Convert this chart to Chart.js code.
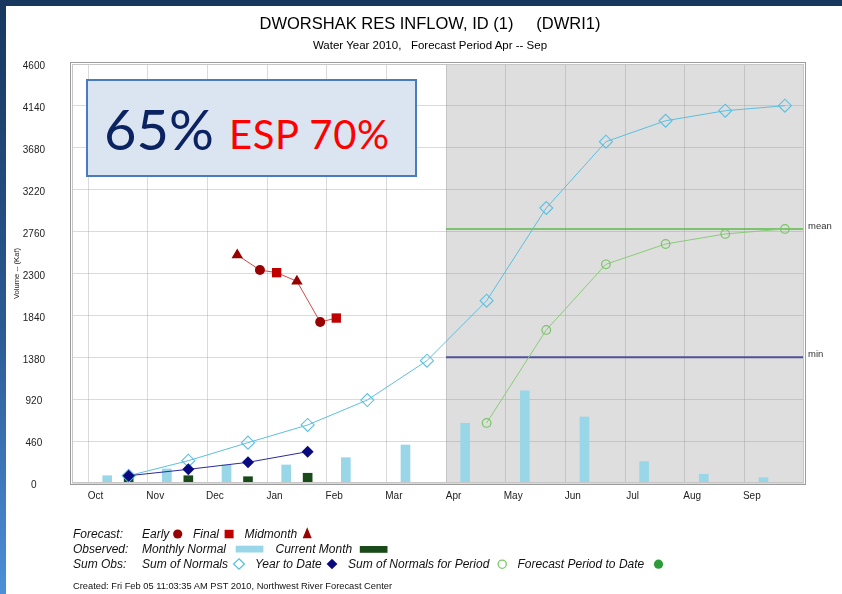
<!DOCTYPE html>
<html>
<head>
<meta charset="utf-8">
<title>DWORSHAK RES INFLOW, ID (1) (DWRI1)</title>
<script src="https://cdn.jsdelivr.net/npm/chart.js@4.4.1/dist/chart.umd.min.js"></script>
<style>
  html, body { margin: 0; padding: 0; background: #fff; }
  body { width: 842px; height: 594px; position: relative; overflow: hidden;
         font-family: "Liberation Sans", Arial, sans-serif; color: #000; }
  #chart { position: absolute; left: 0; top: 0; }
  .band-top { position: absolute; left: 0; top: 0; width: 842px; height: 6px; background: #17375e; }
  .band-left { position: absolute; left: 0; top: 0; width: 6px; height: 594px;
               background: linear-gradient(#17375e, #2b5a93 55%, #4d8fd9); }
  .title { position: absolute; left: 0; width: 860px; text-align: center; white-space: pre; }
  .t1 { top: 13px; font-size: 16.5px; line-height: 20px; }
  .t2 { top: 38px; font-size: 11.5px; line-height: 14px; }
  .badge { position: absolute; left: 86px; top: 79px; width: 331px; height: 98px; box-sizing: border-box;
           background: #dbe4f1; border: 2px solid #4a7bbd; }
  .badge span { position: absolute; white-space: pre; font-family: Lato, "Open Sans", sans-serif; line-height: 1.2; }
  .big { left: 16px; top: 14px; font-size: 56px; color: #0b2360; }
  .esp { left: 141px; top: 29px; font-size: 40px; color: #ff0000; letter-spacing: 0.6px; }
  .lg { position: absolute; font-style: italic; font-size: 12px; line-height: 14px; white-space: pre; color: #111; }
  .foot { position: absolute; left: 73px; top: 580px; font-size: 9.3px; line-height: 12px; white-space: pre; color: #111; }
  svg.keys { position: absolute; left: 0; top: 0; }
</style>
</head>
<body>
<canvas id="chart" width="842" height="594"></canvas>

<div class="title t1">DWORSHAK RES INFLOW, ID (1)     (DWRI1)</div>
<div class="title t2">Water Year 2010,   Forecast Period Apr -- Sep</div>

<div class="badge"><span class="big">65%</span><span class="esp">ESP 70%</span></div>

<!-- legend -->
<div class="lg" style="left:73px;top:527px">Forecast:</div>
<div class="lg" style="left:142px;top:527px">Early</div>
<div class="lg" style="left:193px;top:527px">Final</div>
<div class="lg" style="left:244.5px;top:527px">Midmonth</div>
<div class="lg" style="left:73px;top:542px">Observed:</div>
<div class="lg" style="left:142px;top:542px">Monthly Normal</div>
<div class="lg" style="left:275.5px;top:542px">Current Month</div>
<div class="lg" style="left:73px;top:557px">Sum Obs:</div>
<div class="lg" style="left:142px;top:557px">Sum of Normals</div>
<div class="lg" style="left:255px;top:557px">Year to Date</div>
<div class="lg" style="left:348px;top:557px">Sum of Normals for Period</div>
<div class="lg" style="left:517.5px;top:557px">Forecast Period to Date</div>
<div class="foot">Created: Fri Feb 05 11:03:35 AM PST 2010, Northwest River Forecast Center</div>

<svg class="keys" width="842" height="594">
  <circle cx="177.7" cy="534" r="4.6" fill="#990000"/>
  <rect x="224.6" y="529.8" width="9" height="8.5" fill="#c00000"/>
  <polygon points="307.2,527.3 302.7,538.3 311.7,538.3" fill="#990000"/>
  <rect x="235.7" y="545.7" width="27.7" height="6.8" fill="#98d6e8"/>
  <rect x="359.8" y="546" width="27.7" height="6.8" fill="#1a4a1a"/>
  <polygon points="239,558.8 244.4,564 239,569.2 233.6,564" fill="none" stroke="#5bc0e0" stroke-width="1.3"/>
  <polygon points="332,558.8 337.4,564 332,569.2 326.6,564" fill="#0a0a80"/>
  <circle cx="502.2" cy="564.2" r="4.1" fill="none" stroke="#7cc86a" stroke-width="1.3"/>
  <circle cx="658.5" cy="564.2" r="4.6" fill="#2e9b3a"/>
</svg>

<div class="band-top"></div>
<div class="band-left"></div>

<script>
// Water year 2010 volumes in thousand acre-feet (Kaf)
const months = ['Oct', 'Nov', 'Dec', 'Jan', 'Feb', 'Mar', 'Apr', 'May', 'Jun', 'Jul', 'Aug', 'Sep'];
const volumeTicks = [0, 460, 920, 1380, 1840, 2300, 2760, 3220, 3680, 4140, 4600];

// observed monthly volumes
const monthlyNormal = [80, 154, 198, 198, 278, 417, 656, 1013, 725, 234, 96, 58];
const currentMonth = [69, 80, 69, 107];                 // Oct .. Jan

// running sums
const sumOfNormals = [80, 245, 443, 637, 911, 1343, 2001, 3019, 3747, 3977, 4087, 4142];
const yearToDate = [80, 150, 227, 344];                  // Oct .. Jan
const periodMonths = ['Apr', 'May', 'Jun', 'Jul', 'Aug', 'Sep'];
const sumOfNormalsForPeriod = [659, 1680, 2401, 2624, 2734, 2789];

// Apr-Sep volume forecasts, by issue date (month index from Oct 1, fractional)
const forecastIssued = [2.50, 2.88, 3.16, 3.50, 3.89, 4.16];
const forecastKind = ['Midmonth', 'Early', 'Final', 'Midmonth', 'Early', 'Final'];
const forecastVolume = [2503, 2338, 2309, 2215, 1767, 1811];

// Apr-Sep reference volumes
const meanVolume = 2789;
const minVolume = 1380;

// where, within each month, a value is placed on the month axis
const NORMAL_POS = 0.32;
const MONTH_END_POS = 0.68;
const FORECAST_START = months.indexOf('Apr');

const kindStyle = {
  Early:    { shape: 'circle',   color: '#990000', r: 5 },
  Final:    { shape: 'rect',     color: '#c00000', r: 6.6 },
  Midmonth: { shape: 'triangle', color: '#990000', r: 6.6 }
};

const FONT = "'Liberation Sans', Arial, sans-serif";

// shaded forecast period, drawn under the grid
const forecastShade = {
  id: 'forecastShade',
  beforeDraw(chart) {
    const { ctx, chartArea: a, scales: { x } } = chart;
    const x0 = x.getPixelForValue(FORECAST_START);
    ctx.save();
    ctx.fillStyle = '#dedede';
    ctx.fillRect(x0, a.top, a.right - x0, a.bottom - a.top);
    ctx.restore();
  }
};

// double frame round the plot, plus the mean / min tags
const frameAndTags = {
  id: 'frameAndTags',
  afterDraw(chart) {
    const { ctx, chartArea: a, scales: { y } } = chart;
    ctx.save();
    ctx.lineWidth = 1;
    ctx.strokeStyle = '#c6c6c6';
    ctx.strokeRect(a.left + 0.5, a.top + 0.5, a.right - a.left - 1, a.bottom - a.top - 1);
    ctx.strokeStyle = '#9c9c9c';
    ctx.strokeRect(a.left - 1.5, a.top - 1.5, a.right - a.left + 3, a.bottom - a.top + 3);
    ctx.fillStyle = '#333';
    ctx.font = '9.5px ' + FONT;
    ctx.textAlign = 'left';
    ctx.textBaseline = 'middle';
    ctx.fillText('mean', a.right + 4, y.getPixelForValue(meanVolume) - 3);
    ctx.fillText('min', a.right + 4, y.getPixelForValue(minVolume) - 3);
    ctx.restore();
  }
};

const pts = (xs, ys) => ys.map((v, i) => ({ x: xs[i], y: v }));
const monthPos = (n, off, first = 0) => Array.from({ length: n }, (_, i) => first + i + off);

const datasets = [
  {
    label: 'Forecast',
    type: 'line',
    data: pts(forecastIssued, forecastVolume),
    borderColor: '#cf4a4a',
    borderWidth: 1,
    pointStyle: forecastKind.map(k => kindStyle[k].shape),
    pointRadius: forecastKind.map(k => kindStyle[k].r),
    pointBackgroundColor: forecastKind.map(k => kindStyle[k].color),
    pointBorderColor: forecastKind.map(k => kindStyle[k].color),
    pointBorderWidth: 0
  },
  {
    label: 'Year to Date',
    type: 'line',
    data: pts(monthPos(yearToDate.length, MONTH_END_POS), yearToDate),
    borderColor: '#2a2a9c',
    borderWidth: 1,
    pointStyle: 'rectRot',
    pointRadius: 6,
    pointBackgroundColor: '#0a0a80',
    pointBorderColor: '#0a0a80',
    pointBorderWidth: 0
  },
  {
    label: 'Sum of Normals',
    type: 'line',
    data: pts(monthPos(sumOfNormals.length, MONTH_END_POS), sumOfNormals),
    borderColor: '#5bbfe0',
    borderWidth: 1,
    pointStyle: 'rectRot',
    pointRadius: 6.5,
    pointBackgroundColor: 'rgba(0,0,0,0)',
    pointBorderColor: '#5bc0e2',
    pointBorderWidth: 1.1
  },
  {
    label: 'Sum of Normals for Period',
    type: 'line',
    data: pts(monthPos(periodMonths.length, MONTH_END_POS, FORECAST_START), sumOfNormalsForPeriod),
    borderColor: '#8acb78',
    borderWidth: 1,
    pointStyle: 'circle',
    pointRadius: 4.3,
    pointBackgroundColor: 'rgba(0,0,0,0)',
    pointBorderColor: '#78c466',
    pointBorderWidth: 1.2
  },
  {
    label: 'mean',
    type: 'line',
    data: [{ x: FORECAST_START, y: meanVolume }, { x: months.length, y: meanVolume }],
    borderColor: '#5cb84a',
    borderWidth: 1.5,
    pointRadius: 0
  },
  {
    label: 'min',
    type: 'line',
    data: [{ x: FORECAST_START, y: minVolume }, { x: months.length, y: minVolume }],
    borderColor: '#50509c',
    borderWidth: 2,
    pointRadius: 0
  },
  {
    label: 'Current Month',
    type: 'bar',
    data: pts(monthPos(currentMonth.length, MONTH_END_POS), currentMonth),
    backgroundColor: '#1a4a1a',
    barThickness: 9,
    grouped: false
  },
  {
    label: 'Monthly Normal',
    type: 'bar',
    data: pts(monthPos(monthlyNormal.length, NORMAL_POS), monthlyNormal),
    backgroundColor: '#98d6e8',
    barThickness: 9,
    grouped: false
  }
];

const gridColor = 'rgba(150,150,150,0.35)';

new Chart(document.getElementById('chart'), {
  type: 'line',
  data: { datasets },
  plugins: [forecastShade, frameAndTags],
  options: {
    responsive: false,
    animation: false,
    events: [],
    layout: { padding: { left: 6, top: 64, right: 38, bottom: 91 } },
    plugins: { legend: { display: false }, tooltip: { enabled: false } },
    scales: {
      x: {
        type: 'linear',
        offset: false,
        min: -0.27,
        max: 12,
        afterBuildTicks: s => { s.ticks = months.map((_, i) => ({ value: i })); },
        afterFit: s => { s.height = 20; },
        grid: { offset: false, color: gridColor, lineWidth: 1, drawTicks: false },
        border: { display: false },
        ticks: {
          autoSkip: false, maxRotation: 0, padding: 7, labelOffset: 7.5,
          color: '#222', font: { family: FONT, size: 10 },
          callback: v => months[v]
        }
      },
      y: {
        type: 'linear',
        min: 0,
        max: 4600,
        afterBuildTicks: s => { s.ticks = volumeTicks.map(v => ({ value: v })); },
        afterFit: s => { s.width = 66; },
        grid: { color: gridColor, lineWidth: 1, drawTicks: false },
        border: { display: false },
        ticks: {
          crossAlign: 'center', padding: 27, labelOffset: 2.5,
          color: '#222', font: { family: FONT, size: 10 },
          callback: v => String(v)
        },
        title: {
          display: true, text: 'Volume -- (Kaf)', color: '#222',
          font: { family: FONT, size: 7.6 }, padding: { top: 6, bottom: 0 }
        }
      }
    }
  }
});
</script>
</body>
</html>
